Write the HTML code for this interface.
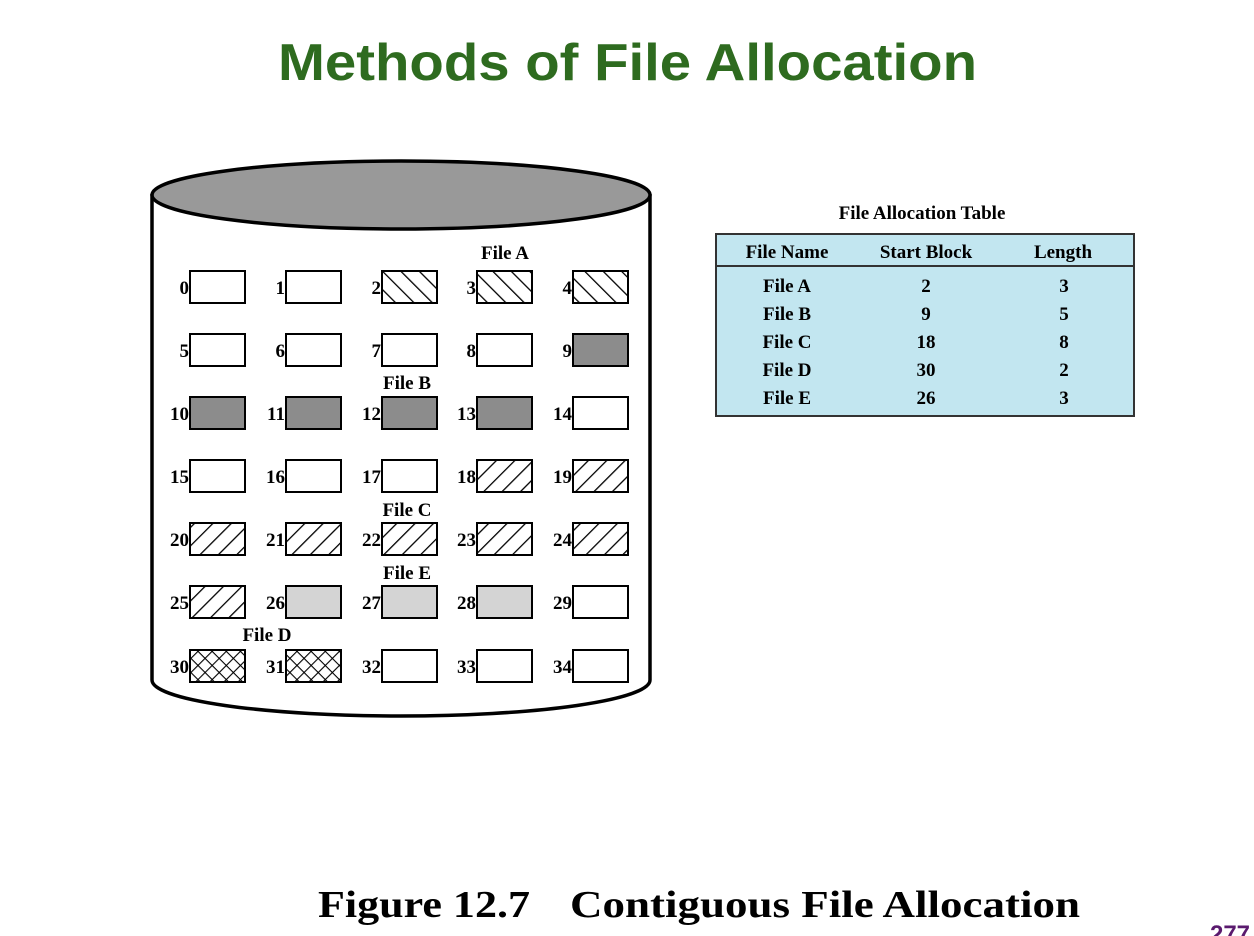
<!DOCTYPE html>
<html><head><meta charset="utf-8"><style>
body{margin:0;width:1254px;height:936px;background:#fff;overflow:hidden}
svg{display:block}
</style></head><body>
<svg width="1254" height="936" xmlns="http://www.w3.org/2000/svg">
<defs>
<pattern id="pc" patternUnits="userSpaceOnUse" width="13" height="13" patternTransform="rotate(45)"><line x1="0" y1="0" x2="0" y2="13" stroke="#000" stroke-width="2.6"/></pattern>
<pattern id="pa" patternUnits="userSpaceOnUse" width="13" height="13" patternTransform="rotate(-45)"><line x1="0" y1="0" x2="0" y2="13" stroke="#000" stroke-width="2.6"/></pattern>
<pattern id="pd" patternUnits="userSpaceOnUse" width="10" height="10" patternTransform="rotate(45)"><line x1="0" y1="0" x2="0" y2="10" stroke="#000" stroke-width="2.2"/><line x1="0" y1="0" x2="10" y2="0" stroke="#000" stroke-width="2.2"/></pattern>
</defs>
<text x="278" y="80" textLength="699" lengthAdjust="spacingAndGlyphs" font-family="Liberation Sans, sans-serif" font-weight="bold" font-size="52" fill="#2e6b1f">Methods of File Allocation</text>
<path d="M152,194 L152,680 A249,36 0 0 0 650,680 L650,194" fill="#fff" stroke="#000" stroke-width="3.5"/>
<ellipse cx="401" cy="195" rx="249" ry="34" fill="#999" stroke="#000" stroke-width="3.5"/>
<g font-family="Liberation Serif, serif" font-weight="bold" font-size="19">
<text x="505" y="259" text-anchor="middle">File A</text>
<text x="407" y="389" text-anchor="middle">File B</text>
<text x="407" y="516" text-anchor="middle">File C</text>
<text x="407" y="579" text-anchor="middle">File E</text>
<text x="267" y="641" text-anchor="middle">File D</text>
</g>
<g stroke="#000" stroke-width="2">
<rect x="190" y="271" width="55" height="32" fill="#fff"/><rect x="286" y="271" width="55" height="32" fill="#fff"/><rect x="382" y="271" width="55" height="32" fill="url(#pa)"/><rect x="477" y="271" width="55" height="32" fill="url(#pa)"/><rect x="573" y="271" width="55" height="32" fill="url(#pa)"/>
<rect x="190" y="334" width="55" height="32" fill="#fff"/><rect x="286" y="334" width="55" height="32" fill="#fff"/><rect x="382" y="334" width="55" height="32" fill="#fff"/><rect x="477" y="334" width="55" height="32" fill="#fff"/><rect x="573" y="334" width="55" height="32" fill="#8c8c8c"/>
<rect x="190" y="397" width="55" height="32" fill="#8c8c8c"/><rect x="286" y="397" width="55" height="32" fill="#8c8c8c"/><rect x="382" y="397" width="55" height="32" fill="#8c8c8c"/><rect x="477" y="397" width="55" height="32" fill="#8c8c8c"/><rect x="573" y="397" width="55" height="32" fill="#fff"/>
<rect x="190" y="460" width="55" height="32" fill="#fff"/><rect x="286" y="460" width="55" height="32" fill="#fff"/><rect x="382" y="460" width="55" height="32" fill="#fff"/><rect x="477" y="460" width="55" height="32" fill="url(#pc)"/><rect x="573" y="460" width="55" height="32" fill="url(#pc)"/>
<rect x="190" y="523" width="55" height="32" fill="url(#pc)"/><rect x="286" y="523" width="55" height="32" fill="url(#pc)"/><rect x="382" y="523" width="55" height="32" fill="url(#pc)"/><rect x="477" y="523" width="55" height="32" fill="url(#pc)"/><rect x="573" y="523" width="55" height="32" fill="url(#pc)"/>
<rect x="190" y="586" width="55" height="32" fill="url(#pc)"/><rect x="286" y="586" width="55" height="32" fill="#d4d4d4"/><rect x="382" y="586" width="55" height="32" fill="#d4d4d4"/><rect x="477" y="586" width="55" height="32" fill="#d4d4d4"/><rect x="573" y="586" width="55" height="32" fill="#fff"/>
<rect x="190" y="650" width="55" height="32" fill="url(#pd)"/><rect x="286" y="650" width="55" height="32" fill="url(#pd)"/><rect x="382" y="650" width="55" height="32" fill="#fff"/><rect x="477" y="650" width="55" height="32" fill="#fff"/><rect x="573" y="650" width="55" height="32" fill="#fff"/>
</g>
<g font-family="Liberation Serif, serif" font-weight="bold" font-size="19" text-anchor="end">
<text x="189" y="294">0</text><text x="285" y="294">1</text><text x="381" y="294">2</text><text x="476" y="294">3</text><text x="572" y="294">4</text>
<text x="189" y="357">5</text><text x="285" y="357">6</text><text x="381" y="357">7</text><text x="476" y="357">8</text><text x="572" y="357">9</text>
<text x="189" y="420">10</text><text x="285" y="420">11</text><text x="381" y="420">12</text><text x="476" y="420">13</text><text x="572" y="420">14</text>
<text x="189" y="483">15</text><text x="285" y="483">16</text><text x="381" y="483">17</text><text x="476" y="483">18</text><text x="572" y="483">19</text>
<text x="189" y="546">20</text><text x="285" y="546">21</text><text x="381" y="546">22</text><text x="476" y="546">23</text><text x="572" y="546">24</text>
<text x="189" y="609">25</text><text x="285" y="609">26</text><text x="381" y="609">27</text><text x="476" y="609">28</text><text x="572" y="609">29</text>
<text x="189" y="673">30</text><text x="285" y="673">31</text><text x="381" y="673">32</text><text x="476" y="673">33</text><text x="572" y="673">34</text>
</g>
<text x="922" y="219" text-anchor="middle" font-family="Liberation Serif, serif" font-weight="bold" font-size="19">File Allocation Table</text>
<rect x="716" y="234" width="418" height="182" fill="#c2e6f0" stroke="#333" stroke-width="2"/>
<line x1="716" y1="266" x2="1134" y2="266" stroke="#333" stroke-width="2"/>
<g font-family="Liberation Serif, serif" font-weight="bold" font-size="19" text-anchor="middle">
<text x="787" y="258">File Name</text><text x="926" y="258">Start Block</text><text x="1063" y="258">Length</text>
<text x="787" y="292">File A</text><text x="926" y="292">2</text><text x="1064" y="292">3</text>
<text x="787" y="320">File B</text><text x="926" y="320">9</text><text x="1064" y="320">5</text>
<text x="787" y="348">File C</text><text x="926" y="348">18</text><text x="1064" y="348">8</text>
<text x="787" y="376">File D</text><text x="926" y="376">30</text><text x="1064" y="376">2</text>
<text x="787" y="404">File E</text><text x="926" y="404">26</text><text x="1064" y="404">3</text>
</g>
<g font-family="Liberation Serif, serif" font-weight="bold" font-size="38">
<text x="318" y="917" textLength="212" lengthAdjust="spacingAndGlyphs">Figure 12.7</text>
<text x="570" y="917" textLength="510" lengthAdjust="spacingAndGlyphs">Contiguous File Allocation</text>
</g>
<text x="1230" y="942" text-anchor="middle" font-family="Liberation Sans, sans-serif" font-weight="bold" font-size="24" fill="#5a1a6e">277</text>
</svg>
</body></html>
